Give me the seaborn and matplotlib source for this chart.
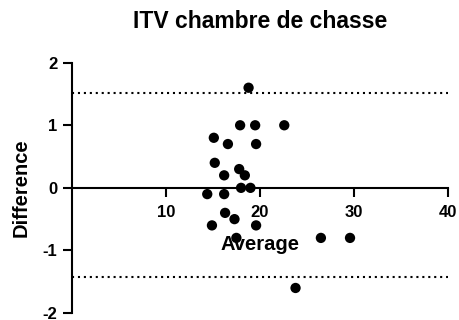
import matplotlib
matplotlib.use("Agg")
import matplotlib.pyplot as plt
import seaborn as sns
import pandas as pd

# Bland-Altman data: mean of the two measurements vs. their difference
average = [18.8, 17.9, 19.5, 22.6, 15.1, 16.6, 19.6, 15.2, 17.8, 16.2, 18.4,
           18.0, 19.0, 14.4, 16.2, 16.3, 17.3, 14.9, 19.6, 17.5, 26.5, 29.6, 23.8]
difference = [1.6, 1.0, 1.0, 1.0, 0.8, 0.7, 0.7, 0.4, 0.3, 0.2, 0.2,
              0.0, 0.0, -0.1, -0.1, -0.4, -0.5, -0.6, -0.6, -0.8, -0.8, -0.8, -1.6]
limits_of_agreement = [1.52, -1.42]
x_ticks = [10, 20, 30, 40]
y_ticks = [-2, -1, 0, 1, 2]

df = pd.DataFrame({"Average": average, "Difference": difference})

sns.set_theme(style="ticks")
plt.rcParams["font.family"] = ["Liberation Sans", "DejaVu Sans"]
plt.rcParams["font.weight"] = "bold"
plt.rcParams["text.color"] = "black"
plt.rcParams["axes.labelcolor"] = "black"
plt.rcParams["xtick.color"] = "black"
plt.rcParams["ytick.color"] = "black"

fig = plt.figure(figsize=(4.6, 3.2), dpi=100)
ax_left, ax_right, ax_top, ax_bottom = 72, 447.7, 62.7, 313
ax = fig.add_axes([ax_left / 460, 1 - ax_bottom / 320,
                   (ax_right - ax_left) / 460, (ax_bottom - ax_top) / 320])

# x axis line crosses at zero difference
ax.spines["bottom"].set_position(("data", 0))
ax.spines["top"].set_visible(False)
ax.spines["right"].set_visible(False)
for side in ("left", "bottom"):
    ax.spines[side].set_linewidth(1.5)
    ax.spines[side].set_color("black")

# dotted limits of agreement
for lim in limits_of_agreement:
    ax.axhline(lim, color="black", lw=1.5, linestyle=(0, (1, 1.85)), zorder=1)

sns.scatterplot(data=df, x="Average", y="Difference", ax=ax, color="black",
                s=55, edgecolor="none", linewidth=0, zorder=3, clip_on=False)

ax.set_xlim(0, 40)
ax.set_ylim(-2, 2)
ax.set_xticks(x_ticks)
ax.set_yticks(y_ticks)
ax.set_xticklabels([str(t) for t in x_ticks], fontsize=12, fontweight="bold",
                   color="black")
ax.set_yticklabels([str(t) for t in y_ticks], fontsize=12, fontweight="bold",
                   color="black")
ax.tick_params(axis="both", length=6.5, width=1.5, color="black")
ax.tick_params(axis="x", pad=6)
ax.tick_params(axis="y", pad=4)

ax.set_xlabel("Average", fontsize=14.5, fontweight="bold", color="black")
ax.set_ylabel("Difference", fontsize=14.5, fontweight="bold", color="black")
ax.xaxis.label.set_va("baseline")
ax.xaxis.set_label_coords(0.5, (ax_bottom - 250) / (ax_bottom - ax_top))
ax.yaxis.label.set_va("center")
ax.yaxis.set_label_coords((21 - ax_left) / (ax_right - ax_left), 0.5)

fig.text((ax_left + ax_right) / 2 / 460, 1 - 28.5 / 320, "ITV chambre de chasse",
         ha="center", va="baseline", fontsize=16.5, fontweight="bold",
         color="black")

fig.savefig("out.png", dpi=100)
